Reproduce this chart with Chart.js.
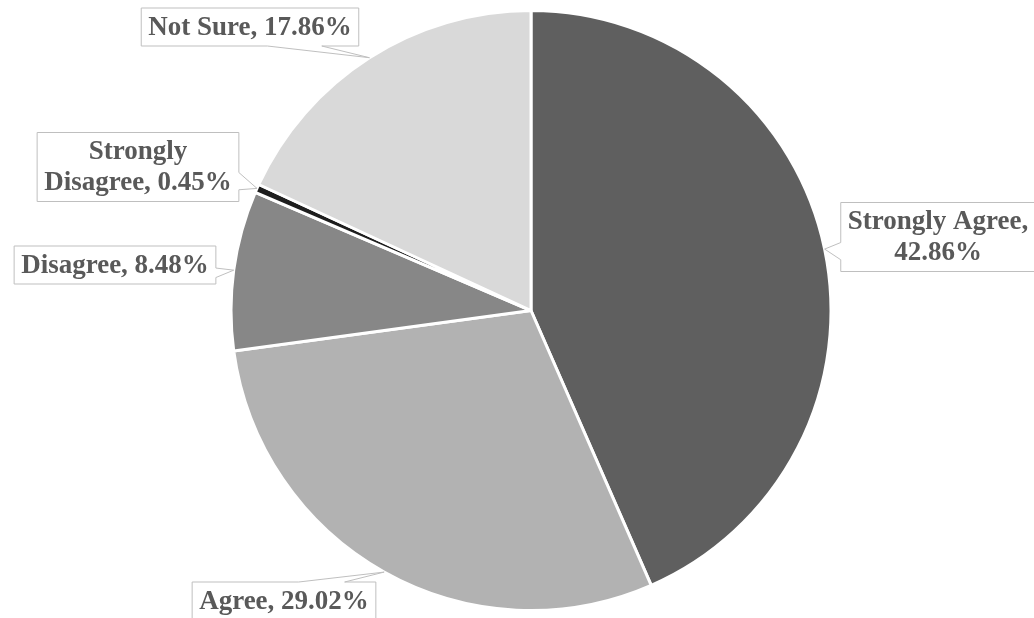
<!DOCTYPE html>
<html>
<head>
<meta charset="utf-8">
<title>Survey responses</title>
<script src="https://cdn.jsdelivr.net/npm/chart.js@4.4.1/dist/chart.umd.min.js"></script>
<style>
  html, body { margin: 0; padding: 0; background: #ffffff; }
  #wrap { width: 1034px; height: 618px; }
</style>
</head>
<body>
<div id="wrap"><canvas id="pie" width="1034" height="618"></canvas></div>
<script>
// Response categories, clockwise from 12 o'clock
const categories = ['Strongly Agree', 'Agree', 'Disagree', 'Strongly Disagree', 'Not Sure'];
// Share of responses, percent
const percentages = [42.86, 29.02, 8.48, 0.45, 17.86];
// Slice fills
const sliceColors = ['#5f5f5f', '#b2b2b2', '#878787', '#1e1e1e', '#d9d9d9'];

// Where each callout box sits (box centre, wrap width)
const calloutLayout = [
  { cx: 938, cy: 237, maxWidth: 192 },
  { cx: 284, cy: 601, maxWidth: 400 },
  { cx: 115, cy: 265, maxWidth: 400 },
  { cx: 138, cy: 167, maxWidth: 205 },
  { cx: 250, cy: 27,  maxWidth: 400 }
];

const FONT = 'bold 27px "Liberation Serif", "Times New Roman", serif';
const LINE_H = 31;
const PAD_X = 7;
const PAD_Y = 3.5;

function wrapText(ctx, text, maxWidth) {
  const words = text.split(' ');
  const lines = [];
  let cur = '';
  for (const w of words) {
    const test = cur ? cur + ' ' + w : w;
    if (cur && ctx.measureText(test).width > maxWidth) {
      lines.push(cur);
      cur = w;
    } else {
      cur = test;
    }
  }
  if (cur) lines.push(cur);
  return lines;
}

// Rectangular callouts with a wedge pointing at each slice
const calloutPlugin = {
  id: 'callouts',
  afterDraw(chart) {
    const ctx = chart.ctx;
    const meta = chart.getDatasetMeta(0);
    ctx.save();
    ctx.font = FONT;
    meta.data.forEach((arc, i) => {
      const lay = calloutLayout[i];
      const text = categories[i] + ', ' + percentages[i].toFixed(2) + '%';
      const lines = wrapText(ctx, text, lay.maxWidth);
      const textW = Math.max(...lines.map(l => ctx.measureText(l).width));
      const w = textW + PAD_X * 2;
      const h = lines.length * LINE_H + PAD_Y * 2;
      const left = lay.cx - w / 2, top = lay.cy - h / 2;
      const right = left + w, bottom = top + h;

      const p = arc.getProps(['x', 'y', 'startAngle', 'endAngle', 'outerRadius'], true);
      const mid = (p.startAngle + p.endAngle) / 2;
      const tx = p.x + Math.cos(mid) * p.outerRadius;
      const ty = p.y + Math.sin(mid) * p.outerRadius;

      // pick the box edge that faces the slice
      const nx = (tx - lay.cx) / (w / 2);
      const ny = (ty - lay.cy) / (h / 2);
      let side;
      if (Math.abs(nx) > Math.abs(ny)) side = nx > 0 ? 'right' : 'left';
      else side = ny > 0 ? 'bottom' : 'top';

      const frac = positive => positive ? [0.58, 0.83] : [0.17, 0.42];
      ctx.beginPath();
      if (side === 'bottom' || side === 'top') {
        const [f1, f2] = frac(tx > lay.cx);
        const b1 = left + w * f1, b2 = left + w * f2;
        if (side === 'bottom') {
          ctx.moveTo(left, top); ctx.lineTo(right, top); ctx.lineTo(right, bottom);
          ctx.lineTo(b2, bottom); ctx.lineTo(tx, ty); ctx.lineTo(b1, bottom);
          ctx.lineTo(left, bottom); ctx.closePath();
        } else {
          ctx.moveTo(left, top); ctx.lineTo(b1, top); ctx.lineTo(tx, ty); ctx.lineTo(b2, top);
          ctx.lineTo(right, top); ctx.lineTo(right, bottom); ctx.lineTo(left, bottom); ctx.closePath();
        }
      } else {
        const [f1, f2] = frac(ty > lay.cy);
        const b1 = top + h * f1, b2 = top + h * f2;
        if (side === 'right') {
          ctx.moveTo(left, top); ctx.lineTo(right, top); ctx.lineTo(right, b1);
          ctx.lineTo(tx, ty); ctx.lineTo(right, b2); ctx.lineTo(right, bottom);
          ctx.lineTo(left, bottom); ctx.closePath();
        } else {
          ctx.moveTo(left, top); ctx.lineTo(right, top); ctx.lineTo(right, bottom);
          ctx.lineTo(left, bottom); ctx.lineTo(left, b2); ctx.lineTo(tx, ty);
          ctx.lineTo(left, b1); ctx.closePath();
        }
      }
      ctx.fillStyle = '#ffffff';
      ctx.fill();
      ctx.lineWidth = 1;
      ctx.strokeStyle = '#bfbfbf';
      ctx.stroke();

      ctx.fillStyle = '#595959';
      ctx.textAlign = 'center';
      ctx.textBaseline = 'middle';
      lines.forEach((l, k) => {
        ctx.fillText(l, lay.cx, top + PAD_Y + LINE_H * (k + 0.5) + 1);
      });
    });
    ctx.restore();
  }
};

new Chart(document.getElementById('pie'), {
  type: 'pie',
  data: {
    labels: categories,
    datasets: [{
      data: percentages,
      backgroundColor: sliceColors,
      borderColor: '#ffffff',
      borderWidth: 3
    }]
  },
  options: {
    responsive: false,
    animation: false,
    layout: { padding: { top: 9, bottom: 6, left: 28, right: 0 } },
    plugins: {
      legend: { display: false },
      tooltip: { enabled: false }
    }
  },
  plugins: [calloutPlugin]
});
</script>
</body>
</html>
